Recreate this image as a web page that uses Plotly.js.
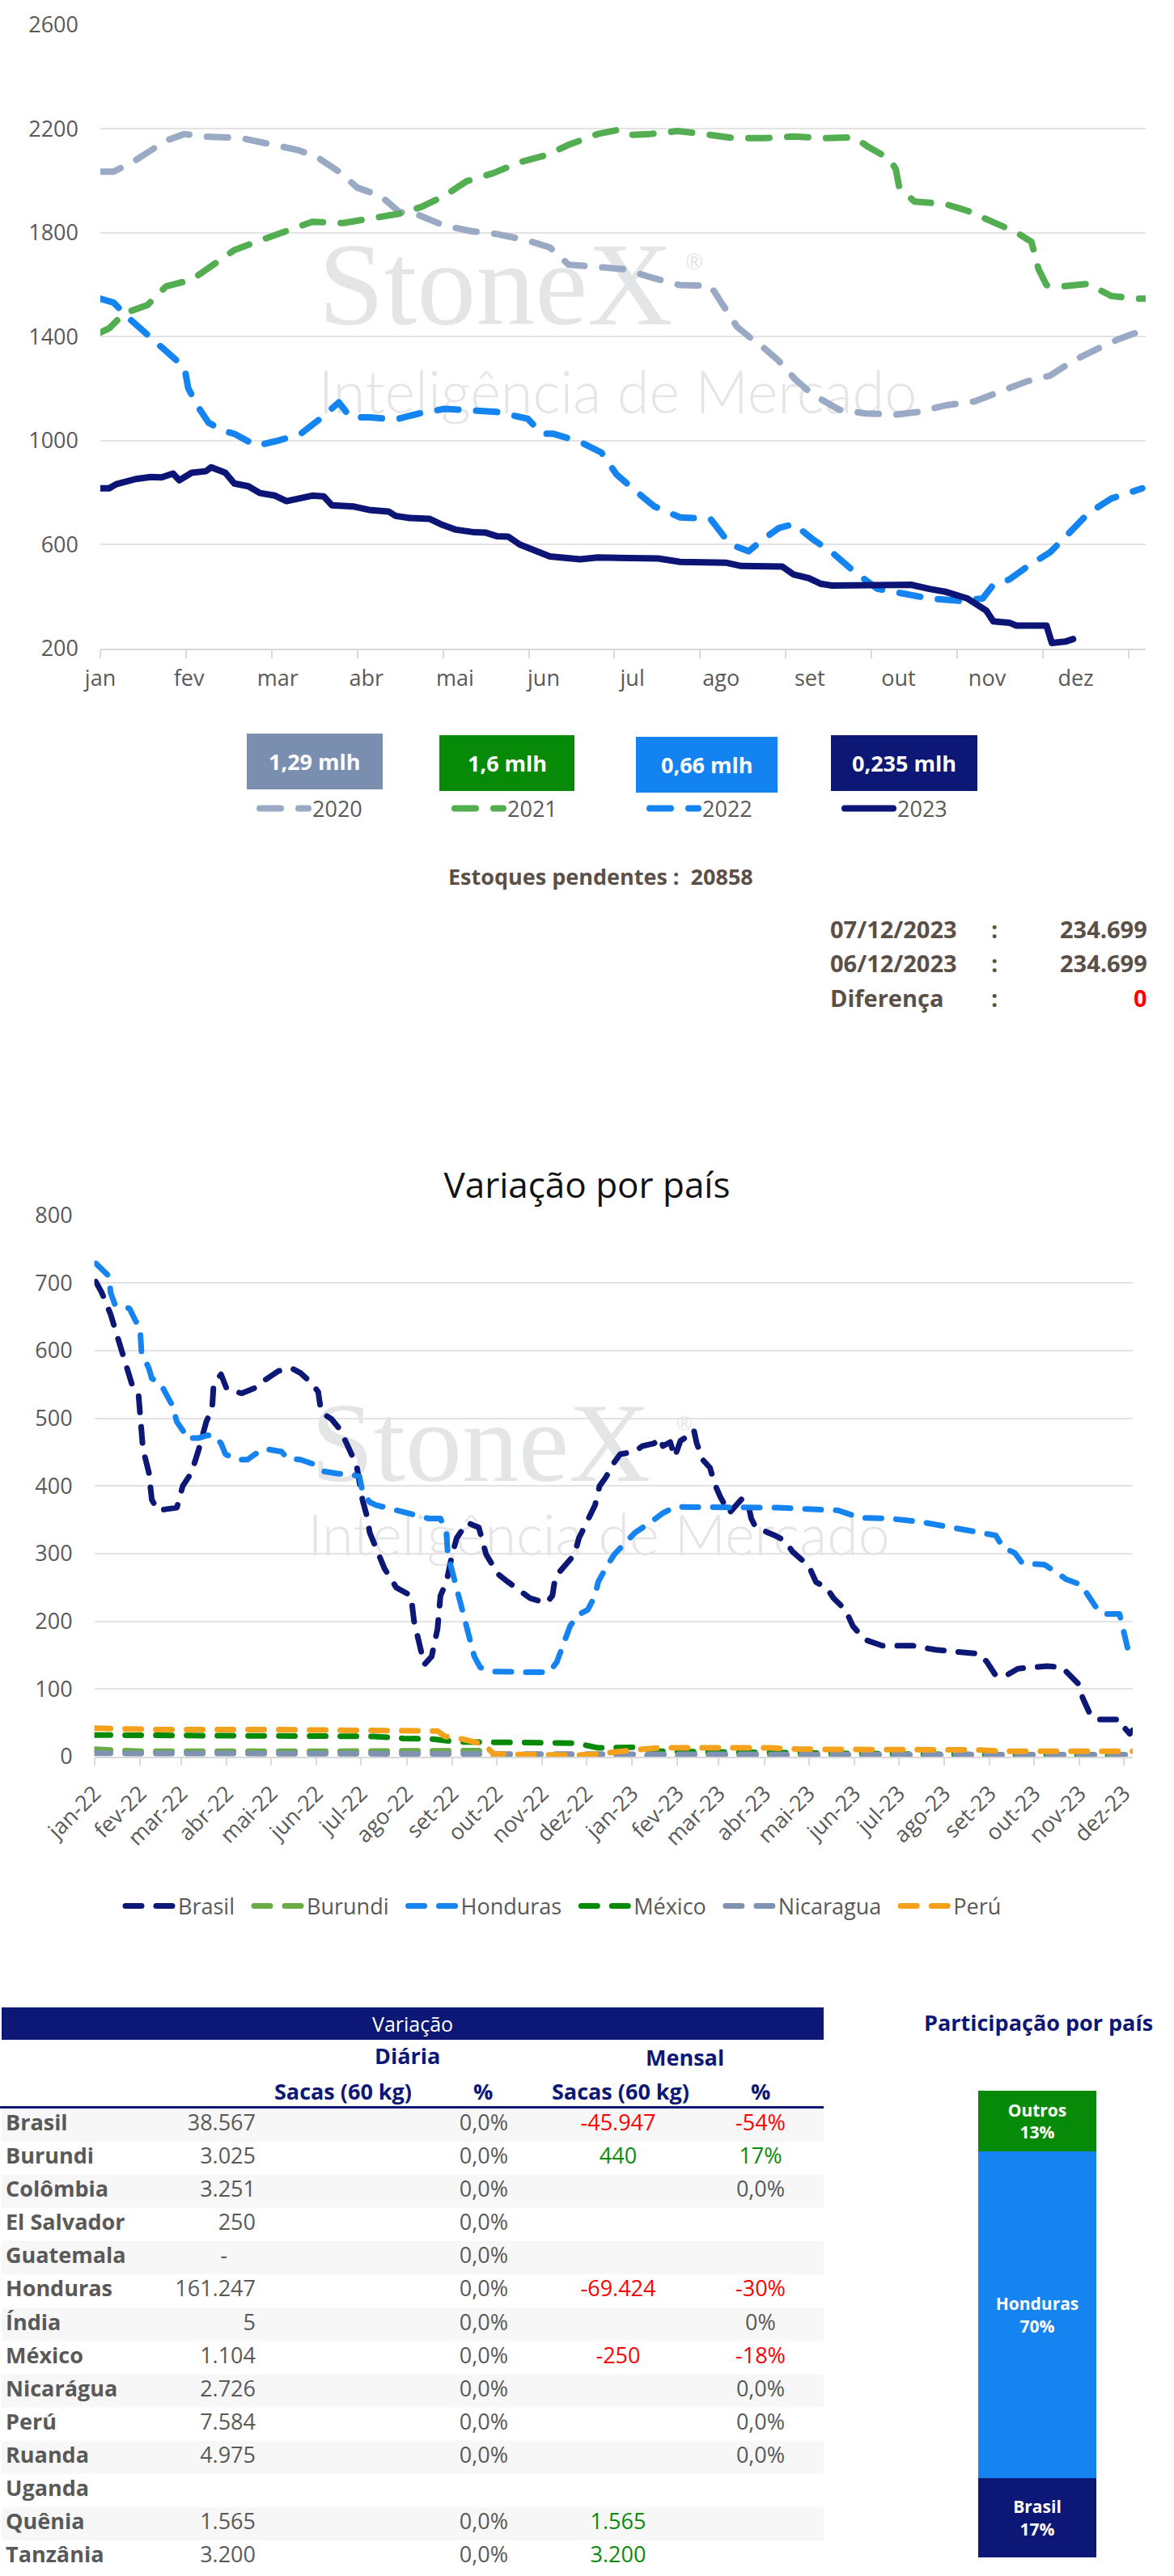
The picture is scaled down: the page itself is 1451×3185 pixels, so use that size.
<!DOCTYPE html>
<html><head><meta charset="utf-8">
<script src="https://cdn.plot.ly/plotly-3.0.1.min.js"></script>
<style>html,body{margin:0;padding:0;background:#fff}#chart{width:1451px;height:3185px}</style>
</head><body><div id="chart"></div>
<script>
// ---------------- DATA ----------------
// Chart 1: month labels (x = month index, 0 = jan)
const months1 = ['jan','fev','mar','abr','mai','jun','jul','ago','set','out','nov','dez'];
const years1 = ['2020','2021','2022','2023'];
const m2020 = [0,0.15,0.36,0.59,0.74,0.95,1.16,1.59,1.84,2.23,2.44,2.69,2.90,3.16,3.37,3.59,3.88,4.18,4.47,4.82,5.07,5.28,5.49,5.90,6.25,6.54,6.88,7.01,7.18,7.35,7.44,7.65,7.84,8.03,8.33,8.63,8.97,9.22,9.53,9.86,10.16,10.46,10.71,10.97,11.22,11.48,11.73];
const v2020 = [2035,2035,2071,2123,2154,2180,2170,2164,2144,2118,2092,2035,1973,1942,1880,1868,1827,1806,1795,1770,1743,1677,1671,1660,1624,1598,1596,1525,1438,1390,1369,1307,1234,1178,1119,1104,1100,1110,1135,1151,1193,1229,1250,1307,1349,1390,1421];
const m2021 = [0,0.10,0.27,0.53,0.74,1.03,1.25,1.51,1.84,2.10,2.39,2.74,3.07,3.37,3.62,3.88,4.13,4.43,4.73,5.03,5.28,5.49,5.61,5.84,5.95,6.20,6.51,6.80,7.14,7.48,7.82,8.16,8.50,8.67,8.89,8.97,9.01,9.18,9.53,9.78,10.03,10.33,10.50,10.58,10.67,10.84,11.14,11.40,11.69,11.78];
const v2021 = [1416,1432,1490,1521,1593,1619,1671,1733,1775,1806,1842,1837,1858,1873,1899,1942,1998,2029,2071,2099,2138,2167,2180,2196,2176,2180,2191,2180,2164,2164,2170,2164,2167,2128,2086,2045,1973,1920,1910,1884,1848,1801,1765,1660,1598,1593,1603,1556,1546,1546];
const m2022 = [0,0.15,0.31,0.53,0.78,0.95,0.99,1.08,1.22,1.38,1.51,1.76,2.01,2.26,2.48,2.69,2.82,3.03,3.33,3.59,3.88,4.18,4.47,4.82,4.98,5.11,5.41,5.65,5.82,5.99,6.25,6.54,6.88,7.10,7.31,7.48,7.65,7.82,8.03,8.25,8.50,8.76,9.01,9.35,9.69,9.95,10.07,10.25,10.46,10.71,10.92,11.14,11.40,11.61,11.75];
const v2022 = [1546,1531,1474,1409,1334,1281,1203,1141,1069,1038,1026,980,1000,1026,1084,1147,1089,1089,1081,1104,1122,1116,1110,1084,1026,1026,995,954,870,819,746,704,699,601,574,621,663,679,621,570,496,430,414,392,383,392,445,465,517,570,642,720,777,798,816];
const m2023 = [0,0.10,0.18,0.40,0.57,0.69,0.82,0.89,1.03,1.19,1.25,1.41,1.51,1.67,1.80,1.97,2.10,2.23,2.39,2.52,2.61,2.86,3.03,3.25,3.33,3.49,3.71,3.84,4.01,4.22,4.34,4.47,4.60,4.73,4.90,5.07,5.41,5.61,6.29,6.54,7.05,7.23,7.69,7.82,7.99,8.12,8.25,8.76,9.14,9.35,9.53,9.78,9.90,9.99,10.07,10.25,10.33,10.67,10.73,10.88,10.97];
const v2023 = [816,816,832,852,860,858,873,847,876,882,897,876,835,824,798,788,767,777,788,785,751,746,733,727,710,702,699,678,657,647,646,632,630,600,574,554,543,550,546,533,530,517,515,484,470,449,442,444,445,429,418,392,366,346,304,299,288,288,221,226,236];
const boxValues = ['1,29 mlh','1,6 mlh','0,66 mlh','0,235 mlh'];

const estoquesPendentes = '20858';
const dateRows = [['07/12/2023','234.699'],['06/12/2023','234.699'],['Diferença','0']];

// Chart 2
const months2 = ['jan-22','fev-22','mar-22','abr-22','mai-22','jun-22','jul-22','ago-22','set-22','out-22','nov-22','dez-22','jan-23','fev-23','mar-23','abr-23','mai-23','jun-23','jul-23','ago-23','set-23','out-23','nov-23','dez-23'];
const monthStarts2 = ['2022-01-01','2022-02-01','2022-03-01','2022-04-01','2022-05-01','2022-06-01','2022-07-01','2022-08-01','2022-09-01','2022-10-01','2022-11-01','2022-12-01','2023-01-01','2023-02-01','2023-03-01','2023-04-01','2023-05-01','2023-06-01','2023-07-01','2023-08-01','2023-09-01','2023-10-01','2023-11-01','2023-12-01'];
const brasilDate = ['2022-01-02','2022-01-06','2022-01-12','2022-01-17','2022-01-23','2022-01-27','2022-01-31','2022-02-01','2022-02-03','2022-02-07','2022-02-09','2022-02-13','2022-02-26','2022-03-02','2022-03-08','2022-03-13','2022-03-18','2022-03-22','2022-03-23','2022-03-28','2022-04-01','2022-04-11','2022-04-20','2022-04-27','2022-05-06','2022-05-15','2022-05-21','2022-05-29','2022-06-02','2022-06-04','2022-06-11','2022-06-17','2022-06-23','2022-06-28','2022-07-02','2022-07-05','2022-07-07','2022-07-17','2022-07-25','2022-08-04','2022-08-06','2022-08-09','2022-08-13','2022-08-18','2022-08-22','2022-08-24','2022-08-28','2022-09-01','2022-09-04','2022-09-11','2022-09-19','2022-09-24','2022-10-02','2022-10-09','2022-10-17','2022-10-24','2022-11-04','2022-11-08','2022-11-10','2022-11-16','2022-11-23','2022-11-26','2022-12-02','2022-12-07','2022-12-10','2022-12-14','2022-12-20','2022-12-24','2023-01-03','2023-01-08','2023-01-16','2023-01-20','2023-01-22','2023-01-27','2023-01-30','2023-02-03','2023-02-09','2023-02-12','2023-02-14','2023-02-18','2023-02-23','2023-02-26','2023-03-02','2023-03-08','2023-03-17','2023-03-21','2023-03-23','2023-03-26','2023-04-08','2023-04-15','2023-04-20','2023-05-01','2023-05-06','2023-05-13','2023-05-18','2023-05-26','2023-05-31','2023-06-08','2023-06-20','2023-07-11','2023-07-26','2023-08-10','2023-08-25','2023-08-30','2023-09-05','2023-09-12','2023-09-20','2023-09-29','2023-10-10','2023-10-20','2023-10-25','2023-10-31','2023-11-03','2023-11-08','2023-11-12','2023-11-28','2023-11-30','2023-12-05','2023-12-07'];
const brasilVal = [702,686,654,618,582,547,535,499,455,420,380,364,368,400,420,455,495,515,551,565,543,537,545,557,570,574,567,551,539,509,499,483,455,431,380,356,331,278,250,238,201,169,136,148,189,238,258,299,323,346,339,299,270,258,246,234,227,238,266,282,299,323,352,372,400,412,435,447,451,459,463,471,459,465,443,467,475,483,463,439,427,404,384,360,382,372,352,339,327,319,303,282,258,250,234,217,193,173,164,164,158,154,152,140,120,120,130,132,134,132,120,108,87,63,55,55,46,34,39];
const hondurasDate = ['2022-01-02','2022-01-06','2022-01-11','2022-01-12','2022-01-15','2022-01-21','2022-01-25','2022-01-29','2022-02-01','2022-02-02','2022-02-07','2022-02-09','2022-02-15','2022-02-18','2022-02-23','2022-02-26','2022-03-03','2022-03-04','2022-03-13','2022-03-19','2022-03-24','2022-03-28','2022-03-31','2022-04-08','2022-04-15','2022-04-20','2022-04-27','2022-05-08','2022-05-12','2022-05-21','2022-05-29','2022-06-05','2022-06-16','2022-06-23','2022-06-30','2022-07-02','2022-07-07','2022-07-11','2022-07-27','2022-08-06','2022-08-16','2022-08-24','2022-08-28','2022-08-29','2022-09-03','2022-09-06','2022-09-09','2022-09-11','2022-09-14','2022-09-16','2022-09-20','2022-09-29','2022-10-19','2022-11-06','2022-11-11','2022-11-15','2022-11-20','2022-11-25','2022-12-02','2022-12-07','2022-12-09','2022-12-14','2022-12-20','2022-12-27','2023-01-03','2023-01-14','2023-01-22','2023-01-30','2023-03-01','2023-03-21','2023-04-10','2023-04-30','2023-05-21','2023-06-05','2023-06-25','2023-07-16','2023-08-03','2023-08-21','2023-09-05','2023-09-10','2023-09-18','2023-09-23','2023-10-08','2023-10-15','2023-10-23','2023-11-02','2023-11-07','2023-11-12','2023-11-17','2023-11-28','2023-11-30','2023-12-02','2023-12-04','2023-12-07'];
const hondurasVal = [729,721,710,686,668,666,662,644,634,598,574,559,551,539,519,495,479,471,471,475,474,463,447,439,439,447,455,451,441,439,433,422,418,418,414,392,376,372,364,358,352,352,331,299,258,229,209,189,169,148,132,126,125,125,140,164,193,209,217,238,258,278,299,315,331,347,360,369,369,369,368,366,364,353,352,347,340,333,327,309,301,286,284,274,262,254,238,221,211,211,193,173,156,158];
const burundiDate = ['2022-01-01','2022-02-01','2022-06-01','2022-09-19','2022-10-01','2023-03-01','2023-12-07'];
const burundiVal = [11,8,8,9,2,2,2];
const mexicoDate = ['2022-01-01','2022-04-01','2022-07-10','2022-07-30','2022-08-19','2022-09-03','2022-10-19','2022-11-24','2022-12-09','2023-01-04','2023-01-19','2023-03-21','2023-07-01','2023-12-07'];
const mexicoVal = [32,31,30,27,26,22,22,20,13,14,8,6,4,2];
const nicaraguaDate = ['2022-01-01','2022-06-01','2022-10-01','2023-03-01','2023-08-01','2023-12-07'];
const nicaraguaVal = [5,4,4,4,3,3];
const peruDate = ['2022-01-01','2022-02-15','2022-05-01','2022-07-15','2022-08-22','2022-08-27','2022-09-08','2022-09-23','2022-09-29','2022-11-24','2022-12-09','2022-12-29','2023-01-19','2023-04-05','2023-04-26','2023-08-25','2023-09-10','2023-12-07'];
const peruVal = [42,40,40,40,38,30,26,18,4,2,4,9,13,13,11,10,8,8];

// Table
const tblCountries = ['Brasil','Burundi','Colômbia','El Salvador','Guatemala','Honduras','Índia','México','Nicarágua','Perú','Ruanda','Uganda','Quênia','Tanzânia'];
const tblDiariaSacas = ['38.567','3.025','3.251','250','-','161.247','5','1.104','2.726','7.584','4.975','','1.565','3.200'];
const tblDiariaPct = ['0,0%','0,0%','0,0%','0,0%','0,0%','0,0%','0,0%','0,0%','0,0%','0,0%','0,0%','','0,0%','0,0%'];
const tblMensalSacas = ['-45.947','440','','','','-69.424','','-250','','','','','1.565','3.200'];
const tblMensalPct = ['-54%','17%','0,0%','','','-30%','0%','-18%','0,0%','0,0%','0,0%','','',''];

// Share bar
const shareNames = ['Brasil','Honduras','Outros'];
const shareValues = [17,70,13];

// ---------------- STYLE ----------------
const W = 1451, H = 3185;
const FONT = '"Open Sans", Lato, "Noto Sans", sans-serif';
const WMFONT = 'Lato, "Open Sans", sans-serif';
const GRAY = '#595959', TAUPE = '#5B5049', NAVY = '#0D1775';
const PX = x => x / W, PY = y => 1 - y / H;
const c1 = {'2020':'#9AAAC4','2021':'#52AE50','2022':'#1484F1','2023':'#0C1575'};
const boxColors = ['#7A8FAF','#078A08','#1483F2','#0D1775'];
const c2 = {Brasil:'#0D1775',Burundi:'#6AAB46',Honduras:'#1583F0','México':'#078A08',Nicaragua:'#7F92B1','Perú':'#F4A21C'};
const shareColors = ['#0D1775','#1583F0','#078A08'];

const data = [];
const wm = (x, y, txt, size, fam, weight, xa, ya) => ({type:'scatter', mode:'text', x:[x], y:[y], text:[txt], textposition:'middle right', textfont:{family:fam, size:size, color:'#E4E5E7', weight:weight}, hoverinfo:'skip', showlegend:false, xaxis:xa, yaxis:ya});
// watermark chart 1 (under lines)
data.push(wm(2.46, 1560, 'StoneX', 146, '"Liberation Serif", "DejaVu Serif", serif', 'normal', 'x', 'y'));
data.push(wm(6.6, 1680, '®', 26, WMFONT, 'normal', 'x', 'y'));
data.push(wm(2.46, 1160, 'Inteligência de Mercado', 72, WMFONT, 300, 'x', 'y'));

const xs1 = {'2020':m2020,'2021':m2021,'2022':m2022,'2023':m2023};
const ys1 = {'2020':v2020,'2021':v2021,'2022':v2022,'2023':v2023};
years1.forEach(yr => {
  data.push({type:'scatter', mode:'lines', name:yr, x:xs1[yr], y:ys1[yr], xaxis:'x', yaxis:'y', legend:'legend',
    line:{color:c1[yr], width:8, dash: yr === '2023' ? 'solid' : '26px,22px', shape:'linear'}, hoverinfo:'skip'});
});

// watermark chart 2
data.push(wm('2022-05-28', 450, 'StoneX', 140, '"Liberation Serif", "DejaVu Serif", serif', 'normal', 'x2', 'y2'));
data.push(wm('2023-01-31', 490, '®', 24, WMFONT, 'normal', 'x2', 'y2'));
data.push(wm('2022-05-26', 318, 'Inteligência de Mercado', 70, WMFONT, 300, 'x2', 'y2'));

const series2 = [['Brasil',brasilDate,brasilVal],['Burundi',burundiDate,burundiVal],['Honduras',hondurasDate,hondurasVal],['México',mexicoDate,mexicoVal],['Nicaragua',nicaraguaDate,nicaraguaVal],['Perú',peruDate,peruVal]];
const legendGap = '\u00A0\u00A0';
series2.forEach(([n,xx,yy], k) => {
  data.push({type:'scatter', mode:'lines', name: k < series2.length - 1 ? n + legendGap : n, x:xx, y:yy, xaxis:'x2', yaxis:'y2', legend:'legend2',
    line:{color:c2[n], width:7, dash:'20px,18px'}, hoverinfo:'skip'});
});

// share bar
shareNames.forEach((n,i) => {
  data.push({type:'bar', x:['total'], y:[shareValues[i]], name:n, xaxis:'x3', yaxis:'y3', width:1, showlegend:false,
    marker:{color:shareColors[i], line:{width:0}}, text:['<b>'+n+'<br>'+shareValues[i]+'%</b>'], textposition:'inside',
    insidetextanchor:'middle', textangle:0, textfont:{color:'#FFFFFF', size:21, family:FONT}, hoverinfo:'skip'});
});

// table: rows on a hidden axis (y4 = row index), columns as text traces
const rowIdx = tblCountries.map((_, i) => i);
const signColor = s => { if (!s) return GRAY; if (s.trim().startsWith('-')) return '#FF0000'; const v = parseFloat(s.replace(/\./g,'').replace('%','').replace(',','.')); return v > 0 ? '#0A8A0A' : GRAY; };
const colText = (vals, xpos, pos, colors, bold) => ({type:'scatter', mode:'text', x:vals.map(() => xpos), y:rowIdx,
  text: vals.map(v => bold ? '<b>'+v+'</b>' : v), textposition:pos,
  textfont:{family:FONT, size:27, color:colors}, hoverinfo:'skip', showlegend:false, xaxis:'x4', yaxis:'y4', cliponaxis:false});
const pad = v => v === '-' ? v + '\u00A0'.repeat(5) : v;
data.push(colText(tblCountries, 7, 'middle right', GRAY, true));
data.push(colText(tblDiariaSacas.map(pad), 316, 'middle left', GRAY, false));
data.push(colText(tblDiariaPct, 628, 'middle left', GRAY, false));
data.push(colText(tblMensalSacas, 764, 'middle center', tblMensalSacas.map(signColor), false));
data.push(colText(tblMensalPct, 940, 'middle center', tblMensalPct.map(signColor), false));

// ---------------- LAYOUT ----------------
const annotations = [];
const ann = (text, x, y, size, color, xanchor, bold, extra) => annotations.push(Object.assign({text: bold ? '<b>'+text+'</b>' : text, x:PX(x), y:PY(y), xref:'paper', yref:'paper', xanchor:xanchor||'center', yanchor:'middle', showarrow:false, font:{family:FONT, size:size, color:color}}, extra||{}));

const shapes = [];
rowIdx.forEach(i => {
  if (i % 2 === 0) shapes.push({type:'rect', xref:'x4', yref:'y4', x0:2, x1:1018, y0:i-0.5, y1:i+0.5, fillcolor:'#F7F7F7', line:{width:0}, layer:'below'});
});
const boxX = [[305,473],[543,710],[786,961],[1027,1208]];
const boxY = [[907,976],[909,978],[911,980],[909,978]];
boxValues.forEach((t,i) => {
  shapes.push({type:'rect', xref:'paper', yref:'paper', x0:PX(boxX[i][0]), x1:PX(boxX[i][1]), y0:PY(boxY[i][1]), y1:PY(boxY[i][0]), fillcolor:boxColors[i], line:{width:0}, layer:'below'});
  ann(t, (boxX[i][0]+boxX[i][1])/2, (boxY[i][0]+boxY[i][1])/2, 27, '#FFFFFF', 'center', true);
});
ann('Estoques pendentes :&nbsp;&nbsp;' + estoquesPendentes, 742, 1083, 27, TAUPE, 'center', true);
const rowY = [1148, 1191, 1233];
dateRows.forEach((r,i) => {
  ann(r[0], 1024, rowY[i], 29, TAUPE, 'left', true);
  ann(':', 1229, rowY[i], 29, TAUPE, 'center', true);
  ann(r[1], 1420, rowY[i], 29, i === 2 ? '#FF0000' : TAUPE, 'right', true);
});
// table header
shapes.push({type:'rect', xref:'paper', yref:'paper', x0:PX(2), x1:PX(1018), y0:PY(2522), y1:PY(2482), fillcolor:NAVY, line:{width:0}});
shapes.push({type:'line', xref:'paper', yref:'paper', x0:PX(0), x1:PX(1018), y0:PY(2605.5), y1:PY(2605.5), line:{color:NAVY, width:3}});
ann('Variação', 510, 2502, 25, '#FFFFFF', 'center', false);
ann('Diária', 504, 2541, 27, NAVY, 'center', true);
ann('Mensal', 846, 2543, 27, NAVY, 'center', true);
ann('Sacas (60 kg)', 424, 2585, 27, NAVY, 'center', true);
ann('%', 597, 2585, 27, NAVY, 'center', true);
ann('Sacas (60 kg)', 767, 2585, 27, NAVY, 'center', true);
ann('%', 940, 2585, 27, NAVY, 'center', true);
ann('Participação por país', 1283, 2500, 27, NAVY, 'center', true);

const tickMarks1 = months1.concat(['']).map((_,i) => i * 105.9 / 109.6);

const layout = {
  width:W, height:H, margin:{l:0,r:0,t:0,b:0}, paper_bgcolor:'#FFFFFF', plot_bgcolor:'rgba(0,0,0,0)',
  font:{family:FONT, color:GRAY}, hovermode:false, barmode:'stack', bargap:0,
  title:{text:'Variação por país', x:0.5, xanchor:'center', xref:'paper', y:PY(1466), yanchor:'middle', yref:'container', font:{family:FONT, size:44, color:'#111111'}},
  xaxis:{domain:[PX(124), PX(1416)], range:[0, (1416-124)/109.6], tickmode:'array', tickvals:months1.map((_,i)=>i), ticktext:months1,
    ticks:'', showgrid:false, zeroline:false, showline:true, linecolor:'#D9D9D9', linewidth:2,
    tickfont:{size:27, color:GRAY}, ticklabelstandoff:12,
    minor:{tickmode:'array', tickvals:tickMarks1, ticks:'outside', ticklen:10, tickwidth:2, tickcolor:'#D9D9D9', showgrid:false}, anchor:'y'},
  yaxis:{domain:[PY(801.7), PY(30.7)], range:[200,2600], tickmode:'linear', tick0:200, dtick:400, gridcolor:'#E3E3E3', gridwidth:2,
    zeroline:false, showline:false, tickfont:{size:27, color:GRAY}, ticklabelstandoff:26, anchor:'x'},
  xaxis2:{domain:[PX(116.6), PX(1400)], type:'date', range:['2022-01-01','2023-12-07'], tickmode:'array', tickvals:monthStarts2, ticktext:months2,
    tickangle:-45, ticks:'outside', ticklen:9, tickwidth:2, tickcolor:'#D9D9D9', showline:true, linecolor:'#D9D9D9', linewidth:2,
    showgrid:false, zeroline:false, tickfont:{size:27, color:GRAY}, ticklabelstandoff:8, anchor:'y2'},
  yaxis2:{domain:[PY(2172), PY(1502.7)], range:[0,800], tickmode:'linear', tick0:0, dtick:100, gridcolor:'#E3E3E3', gridwidth:2,
    zeroline:false, showline:false, tickfont:{size:27, color:GRAY}, ticklabelstandoff:26, anchor:'x2'},
  xaxis3:{domain:[PX(1209), PX(1355)], range:[-0.5,0.5], visible:false, anchor:'y3'},
  yaxis3:{domain:[PY(3162), PY(2585)], range:[0,100], visible:false, anchor:'x3'},
  xaxis4:{domain:[0, PX(1018)], range:[0,1018], visible:false, fixedrange:true, anchor:'y4'},
  yaxis4:{domain:[PY(3182.1), PY(2606.7)], range:[tblCountries.length-0.5, -0.5], visible:false, fixedrange:true, anchor:'x4'},
  legend:{orientation:'h', x:PX(316), xanchor:'left', y:PY(1000), yanchor:'middle', entrywidth:166, entrywidthmode:'pixels',
    itemwidth:60, font:{family:FONT, size:27, color:GRAY}, bgcolor:'rgba(0,0,0,0)', traceorder:'normal'},
  legend2:{orientation:'h', x:PX(150), xanchor:'left', y:PY(2357), yanchor:'middle', itemwidth:60,
    font:{family:FONT, size:27, color:GRAY}, bgcolor:'rgba(0,0,0,0)', traceorder:'normal'},
  shapes:shapes, annotations:annotations
};

Plotly.newPlot('chart', data, layout, {staticPlot:true, responsive:false}).then(gd => {
  gd.querySelectorAll('path.js-line').forEach(p => { p.style.strokeLinecap = 'round'; p.style.strokeLinejoin = 'round'; });
});
</script>
</body></html>
